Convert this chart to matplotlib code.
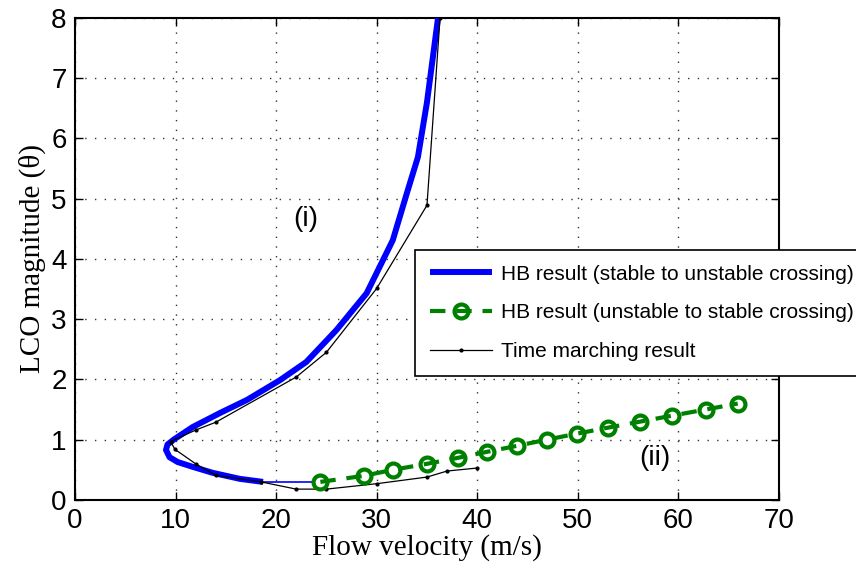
import matplotlib
matplotlib.use('Agg')
import matplotlib.pyplot as plt
from matplotlib.legend_handler import HandlerTuple

# HB result, stable to unstable crossing (thick part)
hb1_x = [18.7, 16.4, 13.7, 11.7, 10.2, 9.4, 9.05, 9.2, 9.8, 11.7, 14.5, 17.1, 20.4, 23.0, 26.0, 29.0, 31.6, 33.0, 34.1, 35.0, 36.1]
hb1_y = [0.30, 0.35, 0.45, 0.55, 0.63, 0.71, 0.83, 0.92, 1.00, 1.21, 1.45, 1.66, 1.99, 2.29, 2.82, 3.43, 4.31, 5.09, 5.69, 6.60, 8.00]
# thin connector to the unstable branch
link_x = [18.7, 24.4]
link_y = [0.30, 0.30]

# HB result, unstable to stable crossing
hb2_x = [24.4, 28.7, 31.6, 35.0, 38.1, 41.0, 44.0, 46.9, 49.9, 53.0, 56.2, 59.4, 62.7, 65.9]
hb2_y = [0.3, 0.4, 0.5, 0.6, 0.7, 0.8, 0.9, 1.0, 1.1, 1.2, 1.3, 1.4, 1.5, 1.6]

# time marching result
tm_x = [40.0, 37.0, 35.0, 30.0, 25.0, 22.0, 18.5, 14.0, 12.0, 9.94, 9.5, 12.0, 14.0, 22.0, 25.0, 30.0, 35.0, 36.3]
tm_y = [0.53, 0.48, 0.38, 0.27, 0.18, 0.18, 0.30, 0.41, 0.60, 0.84, 0.97, 1.16, 1.29, 2.04, 2.45, 3.51, 4.89, 8.00]

sans = 'Liberation Sans'
serif = 'Liberation Serif'

fig = plt.figure(figsize=(8.56, 5.76), dpi=100)
ax = fig.add_axes([0.0876, 0.132, 0.8224, 0.837])

l1, = ax.plot(hb1_x, hb1_y, color='#0000ff', lw=4.3, solid_capstyle='butt', solid_joinstyle='round', zorder=3)
ax.plot(link_x, link_y, color='#0000ff', lw=1.2, zorder=3)
l3, = ax.plot(tm_x, tm_y, color='black', lw=0.9, marker='.', ms=4, zorder=4)
m2, = ax.plot(hb2_x, hb2_y, ls='none', marker='o', ms=10, mfc='white', mec='#008000', mew=3, zorder=5)
d2, = ax.plot(hb2_x, hb2_y, color='#008000', ls='--', lw=3, dashes=(3.7, 2.6), zorder=6)

ax.text(22.9, 4.67, '(i)', fontsize=20, family=sans, ha='center', va='center')
ax.text(57.7, 0.7, '(ii)', fontsize=20, family=sans, ha='center', va='center')

ax.set_xlim(0, 70)
ax.set_ylim(0, 8)
ax.set_xticks(range(0, 71, 10))
ax.set_yticks(range(0, 9))
ax.grid(True, color='#333333', ls=(0, (1, 6)), lw=1.0)
ax.tick_params(direction='in', top=True, right=True, length=6, width=1, labelsize=20, pad=6)
for lab in ax.get_xticklabels() + ax.get_yticklabels():
    lab.set_family(sans)
for s in ax.spines.values():
    s.set_linewidth(1.5)

ax.set_xlabel('Flow velocity (m/s)', family=serif, fontsize=21, labelpad=0)
ax.set_ylabel('LCO magnitude (θ)', family=serif, fontsize=21, labelpad=4)

leg = fig.legend([l1, (m2, d2), l3],
                 ['HB result (stable to unstable crossing)',
                  'HB result (unstable to stable crossing)',
                  'Time marching result'],
                 handler_map={tuple: HandlerTuple(ndivide=1)},
                 loc='upper left', bbox_to_anchor=(0.485, 0.566), bbox_transform=fig.transFigure,
                 borderaxespad=0, fancybox=False, framealpha=1, edgecolor='black',
                 prop={'family': sans, 'size': 15}, handlelength=3, handletextpad=0.4,
                 numpoints=1, labelspacing=0.95, borderpad=0.7)
leg.get_frame().set_linewidth(1.2)

fig.savefig('out.png', dpi=100)
